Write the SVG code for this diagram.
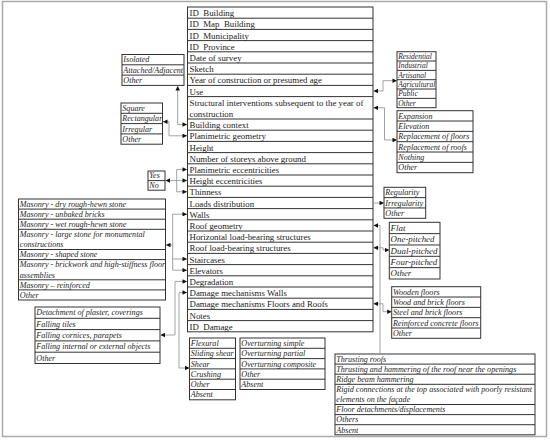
<svg xmlns="http://www.w3.org/2000/svg" width="550" height="442" viewBox="0 0 550 442">
<style>
.t{font-family:"Liberation Serif","Times New Roman",serif;font-size:8.85px;fill:#1a1a1a}
.i{font-family:"Liberation Serif","Times New Roman",serif;font-size:8.1px;font-style:italic;fill:#262626}
.s{font-size:7.5px}
.l{font-size:8.9px}
.b{fill:#fff;stroke:#333;stroke-width:1}
.d{stroke:#333;stroke-width:1}
.c{fill:none;stroke:#999;stroke-width:0.9}
.p{white-space:pre}
</style>
<defs>
<marker id="a" viewBox="0 0 6 6" refX="6" refY="3" markerWidth="5" markerHeight="4.5" markerUnits="userSpaceOnUse" orient="auto-start-reverse"><path d="M0,0 L6,3 L0,6 z" fill="#111"/></marker>
</defs>
<rect x="2.5" y="1.5" width="544" height="435" fill="#fff" stroke="#aaa" stroke-width="1.5"/>

<g id="main-table">
<rect class="b" x="187.5" y="7" width="185.5" height="324.8"/>
<path class="d" d="M187.5,18.2H373M187.5,29.4H373M187.5,40.6H373M187.5,51.8H373M187.5,63H373M187.5,74.2H373M187.5,85.4H373M187.5,96.6H373M187.5,119H373M187.5,130.2H373M187.5,141.4H373M187.5,152.6H373M187.5,163.8H373M187.5,175H373M187.5,186.2H373M187.5,197.4H373M187.5,208.6H373M187.5,219.8H373M187.5,231H373M187.5,242.2H373M187.5,253.4H373M187.5,264.6H373M187.5,275.8H373M187.5,287H373M187.5,298.2H373M187.5,309.4H373M187.5,320.6H373"/>
<text class="t p" x="189.5" y="16.2">ID  Building</text>
<text class="t p" x="189.5" y="27.4">ID  Map  Building</text>
<text class="t p" x="189.5" y="38.6">ID  Municipality</text>
<text class="t p" x="189.5" y="49.8">ID  Province</text>
<text class="t" x="189.5" y="61">Date of survey</text>
<text class="t" x="189.5" y="72.2">Sketch</text>
<text class="t" x="189.5" y="83.4">Year of construction or presumed age</text>
<text class="t" x="189.5" y="94.6">Use</text>
<text class="t" x="189.5" y="105.8">Structural interventions subsequent to the year of</text>
<text class="t" x="189.5" y="117">construction</text>
<text class="t" x="189.5" y="128.2">Building context</text>
<text class="t" x="189.5" y="139.4">Planimetric geometry</text>
<text class="t" x="189.5" y="150.6">Height</text>
<text class="t" x="189.5" y="161.8">Number of storeys above ground</text>
<text class="t" x="189.5" y="173">Planimetric eccentricities</text>
<text class="t" x="189.5" y="184.2">Height eccentricities</text>
<text class="t" x="189.5" y="195.4">Thinness</text>
<text class="t" x="189.5" y="206.6">Loads distribution</text>
<text class="t" x="189.5" y="217.8">Walls</text>
<text class="t" x="189.5" y="229">Roof geometry</text>
<text class="t" x="189.5" y="240.2">Horizontal load-bearing structures</text>
<text class="t" x="189.5" y="251.4">Roof load-bearing structures</text>
<text class="t" x="189.5" y="262.6">Staircases</text>
<text class="t" x="189.5" y="273.8">Elevators</text>
<text class="t" x="189.5" y="285">Degradation</text>
<text class="t" x="189.5" y="296.2">Damage mechanisms Walls</text>
<text class="t" x="189.5" y="307.4">Damage mechanisms Floors and Roofs</text>
<text class="t" x="189.5" y="318.6">Notes</text>
<text class="t p" x="189.5" y="329.8">ID  Damage</text>
</g>

<g id="building-context-options">
<rect class="b" x="122" y="54.5" width="62" height="30.9"/>
<path class="d" d="M122,64.8H184M122,75.1H184"/>
<text class="i" x="123.3" y="62.4">Isolated</text>
<text class="i" x="123.3" y="72.7">Attached/Adjacent</text>
<text class="i" x="123.3" y="83">Other</text>
</g>

<g id="geometry-options">
<rect class="b" x="121" y="103" width="41.5" height="41.2"/>
<path class="d" d="M121,113.3H162.5M121,123.6H162.5M121,133.9H162.5"/>
<text class="i" x="122.3" y="110.9">Square</text>
<text class="i" x="122.3" y="121.2">Rectangular</text>
<text class="i" x="122.3" y="131.5">Irregular</text>
<text class="i" x="122.3" y="141.8">Other</text>
</g>

<g id="yes-no-options">
<rect class="b" x="148" y="171" width="17" height="19.2"/>
<path class="d" d="M148,180.6H165"/>
<text class="i" x="149.3" y="178">Yes</text>
<text class="i" x="149.3" y="187.6">No</text>
</g>

<g id="walls-options">
<rect class="b" x="18.5" y="199" width="147" height="101"/>
<path class="d" d="M18.5,209.1H165.5M18.5,219.2H165.5M18.5,229.3H165.5M18.5,249.5H165.5M18.5,259.6H165.5M18.5,279.8H165.5M18.5,289.9H165.5"/>
<text class="i" x="19.8" y="206.8">Masonry - dry rough-hewn stone</text>
<text class="i" x="19.8" y="216.9">Masonry - unbaked bricks</text>
<text class="i" x="19.8" y="227">Masonry - wet rough-hewn stone</text>
<text class="i" x="19.8" y="237.1">Masonry - large stone for monumental</text>
<text class="i" x="19.8" y="247.2">constructions</text>
<text class="i" x="19.8" y="257.3">Masonry - shaped stone</text>
<text class="i" x="19.8" y="267.4">Masonry - brickwork and high-stiffness floor</text>
<text class="i" x="19.8" y="277.5">assemblies</text>
<text class="i" x="19.8" y="287.6">Masonry – reinforced</text>
<text class="i" x="19.8" y="297.7">Other</text>
</g>

<g id="degradation-options">
<rect class="b" x="35" y="307" width="125" height="56.5"/>
<path class="d" d="M35,318.3H160M35,329.6H160M35,340.9H160M35,352.2H160"/>
<text class="i" x="36.3" y="315.4">Detachment of plaster, coverings</text>
<text class="i" x="36.3" y="326.7">Falling tiles</text>
<text class="i" x="36.3" y="338">Falling cornices, parapets</text>
<text class="i" x="36.3" y="349.3">Falling internal or external objects</text>
<text class="i" x="36.3" y="360.6">Other</text>
</g>

<g id="walls-damage-options">
<rect class="b" x="189.5" y="338" width="46" height="61.8"/>
<path class="d" d="M189.5,348.3H235.5M189.5,358.6H235.5M189.5,368.9H235.5M189.5,379.2H235.5M189.5,389.5H235.5"/>
<text class="i" x="190.8" y="345.9">Flexural</text>
<text class="i" x="190.8" y="356.2">Sliding shear</text>
<text class="i" x="190.8" y="366.5">Shear</text>
<text class="i" x="190.8" y="376.8">Crushing</text>
<text class="i" x="190.8" y="387.1">Other</text>
<text class="i" x="190.8" y="397.4">Absent</text>
</g>

<g id="overturning-options">
<rect class="b" x="240" y="338" width="85" height="51.5"/>
<path class="d" d="M240,348.3H325M240,358.6H325M240,368.9H325M240,379.2H325"/>
<text class="i" x="241.3" y="345.9">Overturning simple</text>
<text class="i" x="241.3" y="356.2">Overturning partial</text>
<text class="i" x="241.3" y="366.5">Overturning composite</text>
<text class="i" x="241.3" y="376.8">Other</text>
<text class="i" x="241.3" y="387.1">Absent</text>
</g>

<g id="use-options">
<rect class="b" x="397" y="51.7" width="39" height="56"/>
<path class="d" d="M397,61.03H436M397,70.37H436M397,79.7H436M397,89.03H436M397,98.37H436"/>
<text class="i s" x="398.2" y="58.9">Residential</text>
<text class="i s" x="398.2" y="68.2">Industrial</text>
<text class="i s" x="398.2" y="77.6">Artisanal</text>
<text class="i s" x="398.2" y="86.9">Agricultural</text>
<text class="i s" x="398.2" y="96.2">Public</text>
<text class="i s" x="398.2" y="105.6">Other</text>
</g>

<g id="interventions-options">
<rect class="b" x="397" y="110.7" width="76" height="62"/>
<path class="d" d="M397,121.03H473M397,131.37H473M397,141.7H473M397,152.03H473M397,162.37H473"/>
<text class="i" x="398.3" y="118.7">Expansion</text>
<text class="i" x="398.3" y="129">Elevation</text>
<text class="i" x="398.3" y="139.4">Replacement of floors</text>
<text class="i" x="398.3" y="149.7">Replacement of roofs</text>
<text class="i" x="398.3" y="160">Nothing</text>
<text class="i" x="398.3" y="170.4">Other</text>
</g>

<g id="loads-options">
<rect class="b" x="384" y="187.3" width="41.7" height="31"/>
<path class="d" d="M384,197.63H425.7M384,207.97H425.7"/>
<text class="i" x="385.3" y="195.3">Regularity</text>
<text class="i" x="385.3" y="205.6">Irregularity</text>
<text class="i" x="385.3" y="216">Other</text>
</g>

<g id="roof-geometry-options">
<rect class="b" x="389.3" y="222.3" width="50.7" height="56.7"/>
<path class="d" d="M389.3,233.63H440M389.3,244.97H440M389.3,256.3H440M389.3,267.63H440"/>
<text class="i l" x="390.6" y="230.9">Flat</text>
<text class="i l" x="390.6" y="242.2">One-pitched</text>
<text class="i l" x="390.6" y="253.6">Dual-pitched</text>
<text class="i l" x="390.6" y="264.9">Four-pitched</text>
<text class="i l" x="390.6" y="276.2">Other</text>
</g>

<g id="floor-options">
<rect class="b" x="391.7" y="286.7" width="89" height="51.6"/>
<path class="d" d="M391.7,297.03H480.7M391.7,307.37H480.7M391.7,317.7H480.7M391.7,328.03H480.7"/>
<text class="i" x="393" y="294.7">Wooden floors</text>
<text class="i" x="393" y="305">Wood and brick floors</text>
<text class="i" x="393" y="315.4">Steel and brick floors</text>
<text class="i" x="393" y="325.7">Reinforced concrete floors</text>
<text class="i" x="393" y="336">Other</text>
</g>

<g id="floors-roofs-damage-options">
<rect class="b" x="335" y="354" width="200" height="80.8"/>
<path class="d" d="M335,364.1H535M335,374.2H535M335,384.3H535M335,404.5H535M335,414.6H535M335,424.7H535"/>
<text class="i" x="336.3" y="361.8">Thrusting roofs</text>
<text class="i" x="336.3" y="371.9">Thrusting and hammering of the roof near the openings</text>
<text class="i" x="336.3" y="382">Ridge beam hammering</text>
<text class="i" x="336.3" y="392.1">Rigid connections at the top associated with poorly resistant</text>
<text class="i" x="336.3" y="402.2">elements on the façade</text>
<text class="i" x="336.3" y="412.3">Floor detachments/displacements</text>
<text class="i" x="336.3" y="422.4">Others</text>
<text class="i" x="336.3" y="432.5">Absent</text>
</g>

<g id="connectors">
<path class="c" d="M187,124.6H177.7V86" marker-start="url(#a)" marker-end="url(#a)"/>
<path class="c" d="M187,135.8H169V121.7H163" marker-start="url(#a)" marker-end="url(#a)"/>
<path class="c" d="M187,180.6H165.5" marker-start="url(#a)" marker-end="url(#a)"/>
<path class="c" d="M187,169.4H176.7V191.8H187" marker-start="url(#a)" marker-end="url(#a)"/>
<path class="c" d="M187,214.2H172.7V245H166" marker-start="url(#a)" marker-end="url(#a)"/>
<path class="c" d="M187,259H172.7V270.2H187" marker-start="url(#a)" marker-end="url(#a)"/>
<path class="c" d="M172.7,245V259"/>
<path class="c" d="M187,281.4H175V335H160.5" marker-start="url(#a)" marker-end="url(#a)"/>
<path class="c" d="M187,292.6H179V368H189.5" marker-start="url(#a)" marker-end="url(#a)"/>
<path class="c" d="M373.5,91H383V80.7H397" marker-start="url(#a)" marker-end="url(#a)"/>
<path class="c" d="M373.5,107.8H384.5V140H397" marker-start="url(#a)" marker-end="url(#a)"/>
<path class="c" d="M373,203H384" marker-end="url(#a)"/>
<path class="c" d="M373.5,225.4H380V354"/>
<path class="c" d="M373.5,225.4H376" marker-start="url(#a)"/>
<path class="c" d="M373.5,247.8H383V250H389.3" marker-start="url(#a)" marker-end="url(#a)"/>
<path class="c" d="M373.5,303.8H383V311.7H391.7" marker-start="url(#a)" marker-end="url(#a)"/>
</g>
</svg>
